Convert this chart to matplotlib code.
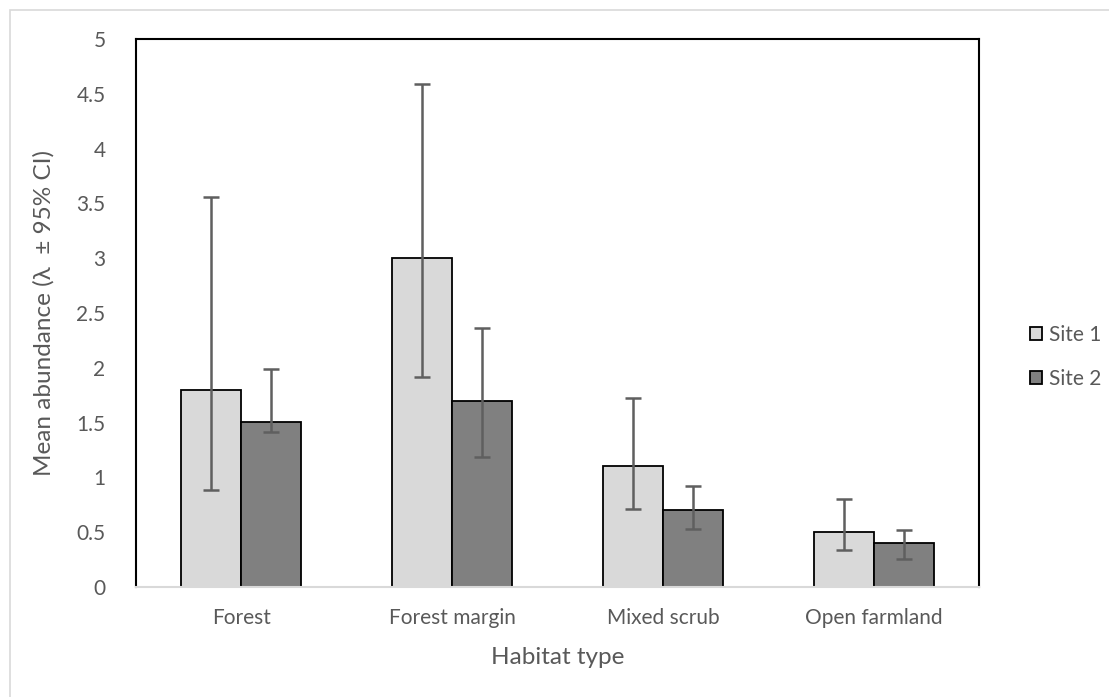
import numpy as np
import matplotlib.pyplot as plt
from matplotlib.patches import Rectangle

plt.rcParams['font.family'] = ['Lato', 'DejaVu Sans']

habitats = ["Forest", "Forest margin", "Mixed scrub", "Open farmland"]
site1 = [1.8, 3.0, 1.1, 0.5]
site1_lo = [0.885, 1.92, 0.71, 0.34]
site1_hi = [3.56, 4.59, 1.72, 0.80]
site2 = [1.51, 1.7, 0.7, 0.4]
site2_lo = [1.41, 1.19, 0.53, 0.26]
site2_hi = [1.99, 2.36, 0.92, 0.52]

txt = "#595959"

fig = plt.figure(figsize=(11.09, 6.97), dpi=100)
ax = fig.add_axes([136/1109, 1-587/697, (979-136)/1109, (587-39)/697])

# light chart-area border
fig.patches.append(Rectangle((10/1109, -0.01), 1.02, 1-10/697+0.01, transform=fig.transFigure,
                             fill=False, edgecolor="#D9D9D9", linewidth=1.2))

x = np.arange(len(habitats))
w = 0.285
s1 = np.array(site1); s2 = np.array(site2)
err1 = [s1 - np.array(site1_lo), np.array(site1_hi) - s1]
err2 = [s2 - np.array(site2_lo), np.array(site2_hi) - s2]

ax.bar(x - w/2, site1, w, color="#D9D9D9", edgecolor="black", linewidth=1.3, label="Site 1",
       yerr=err1, error_kw=dict(ecolor="#5f5f5f", elinewidth=1.8, capsize=6, capthick=1.8))
ax.bar(x + w/2, site2, w, color="#808080", edgecolor="black", linewidth=1.3, label="Site 2",
       yerr=err2, error_kw=dict(ecolor="#5f5f5f", elinewidth=1.8, capsize=6, capthick=1.8))

ax.set_xlim(-0.5, 3.5)
ax.set_ylim(0, 5)
ax.set_yticks(np.arange(0, 5.01, 0.5))
ax.set_yticklabels(["0", "0.5", "1", "1.5", "2", "2.5", "3", "3.5", "4", "4.5", "5"])
ax.set_xticks(x)
ax.set_xticklabels(habitats)
ax.tick_params(axis="both", length=0, labelsize=15, colors=txt)
ax.tick_params(axis="x", pad=15)
ax.tick_params(axis="y", pad=22)

for side in ["left", "top", "right"]:
    ax.spines[side].set_color("black")
    ax.spines[side].set_linewidth(1.5)
ax.spines["bottom"].set_color("#D9D9D9")
ax.spines["bottom"].set_linewidth(1.5)

ax.set_xlabel("Habitat type", fontsize=17.5, color=txt, labelpad=14)
ax.set_ylabel("Mean abundance (λ  ± 95% CI)", fontsize=17.5, color=txt, labelpad=16)

leg = ax.legend(loc="center left", bbox_to_anchor=(1.038, 0.42), frameon=False, fontsize=15,
                handlelength=0.6, handleheight=0.6, handletextpad=0.3, labelspacing=1.15)
for t in leg.get_texts():
    t.set_color(txt)

fig.savefig("out.png", dpi=100)
